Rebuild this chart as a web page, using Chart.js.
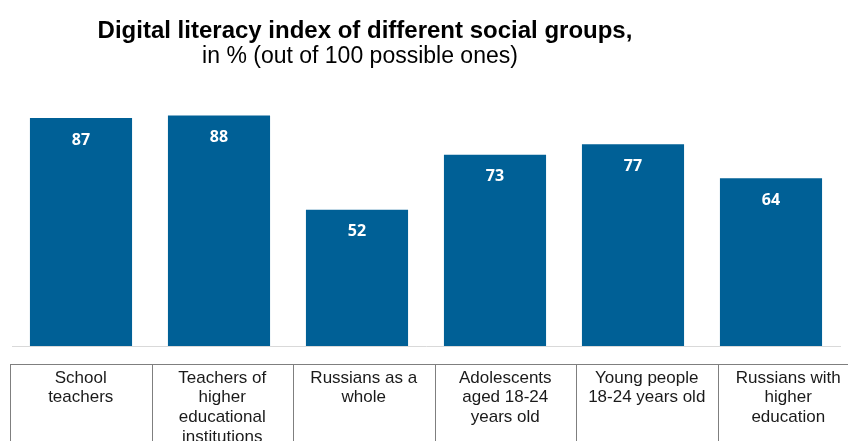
<!DOCTYPE html>
<html>
<head>
<meta charset="utf-8">
<script src="https://cdn.jsdelivr.net/npm/chart.js@4"></script>
<style>
  html, body { margin: 0; padding: 0; background: #fff; }
  #wrap { width: 848px; height: 441px; }
</style>
</head>
<body>
<div id="wrap"><canvas id="literacyChart"></canvas></div>
<script>
// categories and values
const groups = [
    ["School", "teachers"],
    ["Teachers of", "higher", "educational", "institutions"],
    ["Russians as a", "whole"],
    ["Adolescents", "aged 18-24", "years old"],
    ["Young people", "18-24 years old"],
    ["Russians with", "higher", "education"]
];
const literacy = [87, 88, 52, 73, 77, 64];

const titleText = "Digital literacy index of different social groups,";
const subtitleText = "in % (out of 100 possible ones)";

// title, value labels and the label table under the bars
const decorations = {
    id: "decorations",
    afterDraw(chart) {
        const ctx = chart.ctx;
        ctx.save();
        ctx.fillStyle = "#000";
        ctx.textAlign = "center";
        ctx.textBaseline = "middle";
        ctx.font = "bold 24px 'Liberation Sans', Arial, sans-serif";
        ctx.fillText(titleText, 365, 31);
        ctx.font = "23px 'Liberation Sans', Arial, sans-serif";
        ctx.fillText(subtitleText, 360, 57);

        // values inside the bars
        const meta = chart.getDatasetMeta(0);
        ctx.fillStyle = "#fff";
        ctx.font = "bold 16px 'Open Sans', 'Liberation Sans', sans-serif";
        meta.data.forEach((bar, i) => {
            ctx.fillText(literacy[i], bar.x, bar.y + 22);
        });

        // table of category names
        const top = 364, left = 10, colW = 141.5;
        ctx.strokeStyle = "#7f7f7f";
        ctx.lineWidth = 1;
        ctx.beginPath();
        ctx.moveTo(left, top + 0.5);
        ctx.lineTo(chart.width, top + 0.5);
        for (let i = 0; i < groups.length; i++) {
            const x = Math.round(left + i * colW) + 0.5;
            ctx.moveTo(x, top);
            ctx.lineTo(x, chart.height);
        }
        ctx.stroke();

        ctx.fillStyle = "#1a1a1a";
        ctx.font = "17px 'Liberation Sans', Arial, sans-serif";
        groups.forEach((lines, i) => {
            const cx = left + i * colW + colW / 2;
            lines.forEach((ln, j) => {
                ctx.fillText(ln, cx, top + 14 + j * 19.7);
            });
        });
        ctx.restore();
    }
};

new Chart(document.getElementById("literacyChart"), {
    type: "bar",
    data: {
        labels: groups.map(g => g.join(" ")),
        datasets: [{
            data: literacy,
            backgroundColor: "#006096",
            barPercentage: 0.74,
            categoryPercentage: 1
        }]
    },
    options: {
        responsive: true,
        maintainAspectRatio: false,
        animation: false,
        layout: { padding: { left: 12, right: 8, top: 84, bottom: 87 } },
        plugins: {
            legend: { display: false },
            tooltip: { enabled: false }
        },
        scales: {
            x: {
                grid: { display: false },
                border: { display: true, color: "#d9d9d9", width: 1 },
                ticks: { display: false }
            },
            y: {
                display: false,
                min: 0,
                max: 100
            }
        }
    },
    plugins: [decorations]
});
</script>
</body>
</html>
